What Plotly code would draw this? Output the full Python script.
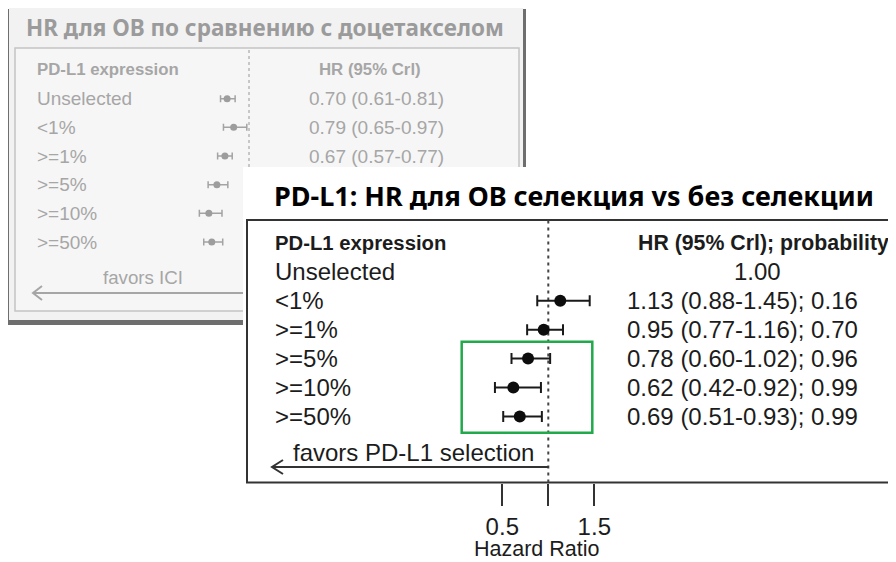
import plotly.graph_objects as go

W, H = 896, 562
OX, OY = 8, 8  # page body margin, figure starts 8px in

# background panel - HR for OS vs docetaxel (faded)
bg_groups = ["Unselected", "<1%", ">=1%", ">=5%", ">=10%", ">=50%"]
bg_hr = [0.70, 0.79, 0.67, 0.56, 0.45, 0.49]
bg_lo = [0.61, 0.65, 0.57, 0.44, 0.32, 0.38]
bg_hi = [0.81, 0.97, 0.77, 0.71, 0.63, 0.64]
bg_visible_rows = 3  # the other value labels sit behind the front panel

# front panel - PD-L1 selection vs no selection
fg_groups = ["Unselected", "<1%", ">=1%", ">=5%", ">=10%", ">=50%"]
fg_hr = [None, 1.13, 0.95, 0.78, 0.62, 0.69]
fg_lo = [None, 0.88, 0.77, 0.60, 0.42, 0.51]
fg_hi = [None, 1.45, 1.16, 1.02, 0.92, 0.93]
fg_prob = [None, 0.16, 0.70, 0.96, 0.99, 0.99]

ticks = [0.5, 1, 1.5]
tick_labels = ["0.5", "", "1.5"]

GREY = "#a6a6a6"
INK = "#1c1c1c"
SANS = "Liberation Sans, Arial, sans-serif"
TITLE_FONT = "Noto Sans, sans-serif"


def px(x):
    return (x - OX) / W


def py(y):
    return 1 - (y - OY) / H


def err(hr, lo, hi):
    plus = [None if h is None else b - h for h, b in zip(hr, hi)]
    minus = [None if h is None else h - a for h, a in zip(hr, lo)]
    return plus, minus


fig = go.Figure()

rows_bg = list(range(1, len(bg_groups) + 1))
p, m = err(bg_hr, bg_lo, bg_hi)
fig.add_trace(go.Scatter(
    x=bg_hr, y=rows_bg, mode="markers", xaxis="x", yaxis="y",
    marker=dict(color="#9d9d9d", size=7),
    error_x=dict(type="data", symmetric=False, array=p, arrayminus=m,
                 color="#a3a3a3", thickness=1.5, width=3.5),
    hoverinfo="skip", showlegend=False))

rows_fg = list(range(1, len(fg_groups) + 1))
p, m = err(fg_hr, fg_lo, fg_hi)
fig.add_trace(go.Scatter(
    x=fg_hr, y=rows_fg, mode="markers", xaxis="x2", yaxis="y2",
    marker=dict(color="#0d0d0d", size=12),
    error_x=dict(type="data", symmetric=False, array=p, arrayminus=m,
                 color="#1a1a1a", thickness=2, width=5.5),
    hoverinfo="skip", showlegend=False))

shapes = [
    # background card with shadow
    dict(type="rect", xref="paper", yref="paper", x0=px(6.5), x1=px(526), y0=py(325), y1=py(9),
         fillcolor="#6e6e6e", line=dict(width=0), layer="below"),
    dict(type="rect", xref="paper", yref="paper", x0=px(9), x1=px(523), y0=py(320), y1=py(5),
         fillcolor="#f2f2f2", line=dict(width=0), layer="below"),
    dict(type="rect", xref="paper", yref="paper", x0=px(15), x1=px(519), y0=py(311), y1=py(48),
         fillcolor="#f6f6f6", line=dict(color="#c4c4c4", width=1.5), layer="below"),
    dict(type="line", xref="x", yref="paper", x0=1, x1=1, y0=py(167), y1=py(48),
         line=dict(color="#b8b8b8", width=1.5, dash="3px,3px"), layer="below"),
    dict(type="line", xref="paper", yref="paper", x0=px(33), x1=px(243), y0=py(293), y1=py(293),
         line=dict(color=GREY, width=2), layer="below"),
    dict(type="path", xref="paper", yref="paper",
         path=f"M{px(42)},{py(286)} L{px(33)},{py(293)} L{px(42)},{py(300)}",
         line=dict(color=GREY, width=2), layer="below"),
    # white front panel
    dict(type="rect", xref="paper", yref="paper", x0=px(243), x1=px(910), y0=py(580), y1=py(167),
         fillcolor="white", line=dict(width=0), layer="below"),
    dict(type="rect", xref="paper", yref="paper", x0=px(247), x1=px(894), y0=py(482.5), y1=py(220),
         line=dict(color="#333333", width=2), layer="below"),
    dict(type="line", xref="x2", yref="paper", x0=1, x1=1, y0=py(482.5), y1=py(220),
         line=dict(color="#444444", width=2, dash="3px,4px"), layer="below"),
    dict(type="line", xref="x2", yref="paper", x0=-2.0, x1=1, y0=py(467), y1=py(467),
         line=dict(color="#333333", width=2), layer="below"),
    dict(type="path", xref="paper", yref="paper",
         path=f"M{px(283)},{py(460)} L{px(272)},{py(467)} L{px(283)},{py(474)}",
         line=dict(color="#333333", width=2), layer="below"),
    # highlight box
    dict(type="rect", xref="paper", yref="paper", x0=px(461.7), x1=px(592.3), y0=py(432.7), y1=py(341.7),
         line=dict(color="#22a94b", width=2.5), layer="above"),
]

ann = []


def text(s, x, y, size, color, anchor="left", bold=False, family=SANS, yref="paper"):
    ann.append(dict(text=f"<b>{s}</b>" if bold else s, x=x, y=y, xref="paper", yref=yref,
                    xanchor=anchor, yanchor="middle", showarrow=False,
                    font=dict(family=family, size=size, color=color)))


# background texts
text("HR для ОВ по сравнению с доцетакселом", px(265), py(28), 22.5, "#9b9b9b", "center", True, TITLE_FONT)
text("PD-L1 expression", px(35), 0, 16.8, GREY, bold=True, yref="y")
text("HR (95% Crl)", px(370), 0, 16.8, GREY, "center", True, yref="y")
for i, g in enumerate(bg_groups):
    text(g, px(35), i + 1, 19, GREY, yref="y")
for i in range(bg_visible_rows):
    text(f"{bg_hr[i]:.2f} ({bg_lo[i]:.2f}-{bg_hi[i]:.2f})", px(376), i + 1, 19, GREY, "center", yref="y")
text("favors ICI", px(143), py(277), 18.7, GREY, "center")

# front texts
text("PD-L1: HR для ОВ селекция vs без селекции", px(574), py(195), 27, "black", "center", True, TITLE_FONT)
text("PD-L1 expression", px(273), 0, 20.3, INK, bold=True, yref="y2")
text("HR (95% Crl); probability", px(891), 0, 21.3, INK, "right", True, yref="y2")
for i, g in enumerate(fg_groups):
    text(g, px(273), i + 1, 24, INK, yref="y2")
    if fg_hr[i] is None:
        text("1.00", px(757), i + 1, 24, INK, "center", yref="y2")
    else:
        text(f"{fg_hr[i]:.2f} ({fg_lo[i]:.2f}-{fg_hi[i]:.2f}); {fg_prob[i]:.2f}",
             px(625), i + 1, 24, INK, yref="y2")
text("favors PD-L1 selection", px(413), py(452), 24, INK, "center")
text("Hazard Ratio", px(537), py(549), 21.5, INK, "center")

fig.update_layout(
    width=W, height=H, margin=dict(l=0, r=0, t=0, b=0),
    template="none", paper_bgcolor="white", plot_bgcolor="rgba(0,0,0,0)",
    shapes=shapes, annotations=ann, showlegend=False,
    xaxis=dict(domain=[px(15), px(519)], range=[1 - (249 - 15) / 73, 1 + (519 - 249) / 73],
               visible=False, anchor="y"),
    yaxis=dict(domain=[py(311), py(48)], range=[(311 - 70) / 28.67, (48 - 70) / 28.67],
               visible=False, anchor="x"),
    xaxis2=dict(domain=[px(247), px(894)], range=[1 - (548.3 - 247) / 92, 1 + (894 - 548.3) / 92],
                anchor="y2", showgrid=False, zeroline=False, showline=False,
                tickmode="array", tickvals=ticks, ticktext=tick_labels,
                ticks="outside", ticklen=22, tickwidth=2, tickcolor="#333333",
                ticklabelstandoff=1,
                tickfont=dict(family=SANS, size=24, color=INK)),
    yaxis2=dict(domain=[py(482.5), py(220)], range=[(482.5 - 243) / 28.9, (220 - 243) / 28.9],
                visible=False, anchor="x2"),
)

fig.write_html("out.html")
